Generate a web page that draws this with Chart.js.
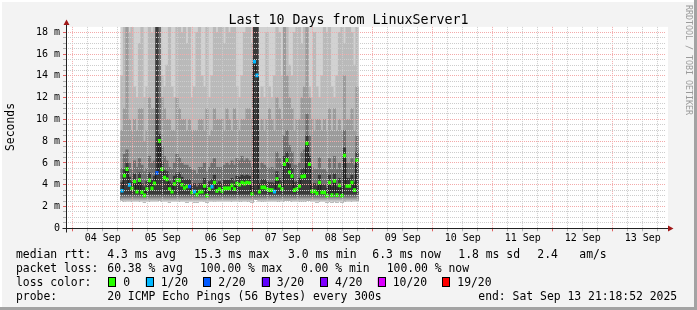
<!DOCTYPE html>
<html>
<head>
<meta charset="utf-8">
<script src="https://cdn.jsdelivr.net/npm/chart.js@4.4.1/dist/chart.umd.min.js"></script>
<style>
  html, body { margin: 0; padding: 0; background: #f3f3f3; }
  #myChart { display: block; }
</style>
</head>
<body>
<canvas id="myChart" width="697" height="310"></canvas>
<script>
// hourly samples, first one at 04 Sep 19:42 (hours counted from 04 Sep 00:00)
const firstHour = 19.7;
const rangeStart = -2.686;   // 03 Sep 21:18:52
const rangeEnd = 237.314;    // 13 Sep 21:18:52
const dayLabels = ['04 Sep', '05 Sep', '06 Sep', '07 Sep', '08 Sep', '09 Sep', '10 Sep', '11 Sep', '12 Sep', '13 Sep'];

// median rtt (ms)
const rttMedian = [
  3.45, 4.83, 5.44, 3.98, 3.67, 4.30, 3.36, 4.43, 3.33, 3.03,
  3.61, 4.41, 3.67, 4.13, 5.10, 8.04, 5.44, 4.65, 4.50, 3.61,
  3.36, 4.07, 4.41, 4.41, 4.00, 3.70, 3.86, 3.86, 3.30, 3.36,
  3.09, 3.36, 3.36, 3.90, 3.00, 3.60, 3.82, 4.20, 3.43, 3.60,
  3.43, 3.67, 3.67, 3.67, 3.94, 3.60, 4.10, 4.00, 4.20, 4.10,
  4.20, 4.15, 3.15, 15.30, 14.05, 3.36, 3.75, 3.75, 3.60, 3.50,
  3.50, 3.36, 4.53, 3.92, 3.60, 5.90, 6.27, 5.14, 4.80, 3.50,
  3.60, 3.90, 4.74, 4.80, 7.80, 5.90, 3.40, 3.40, 3.20, 4.20,
  3.30, 3.30, 3.00, 4.20, 3.05, 4.35, 3.05, 3.95, 3.00, 6.67,
  3.90, 3.90, 4.20, 3.50, 6.25
];
// fastest ping of each sample (bottom of the smoke)
const rttMin = [
  2.60, 2.50, 2.45, 2.45, 2.50, 2.45, 2.45, 2.50, 2.45, 2.40,
  2.45, 2.50, 2.45, 2.45, 2.45, 2.60, 2.50, 2.45, 2.45, 2.40,
  2.45, 2.45, 2.50, 2.50, 2.45, 2.45, 2.40, 2.45, 2.45, 2.40,
  2.40, 2.45, 2.45, 2.50, 2.40, 2.45, 2.45, 2.50, 2.45, 2.45,
  2.45, 2.45, 2.45, 2.45, 2.50, 2.45, 2.45, 2.50, 2.50, 2.45,
  2.50, 2.50, 2.40, 2.70, 2.65, 2.45, 2.50, 2.50, 2.45, 2.45,
  2.45, 2.45, 2.50, 2.50, 2.45, 2.55, 2.60, 2.55, 2.50, 2.45,
  2.45, 2.50, 2.50, 2.50, 2.60, 2.55, 2.45, 2.45, 2.40, 2.50,
  2.45, 2.45, 2.40, 2.50, 2.40, 2.50, 2.40, 2.45, 2.40, 2.55,
  2.45, 2.45, 2.50, 2.45, 2.55
];
// smoke bands (ms), 20 = past the top of the graph
const rttP60 = [
  4.2, 5.4, 6.0, 4.7, 4.3, 5.0, 4.1, 5.1, 4.1, 3.8,
  4.3, 5.1, 4.4, 4.8, 20, 8.6, 6.1, 5.3, 5.2, 4.3,
  4.1, 4.8, 5.1, 5.1, 4.7, 4.4, 4.5, 4.5, 4.0, 4.1,
  3.8, 4.1, 4.1, 4.6, 3.7, 4.3, 4.5, 4.9, 4.1, 4.3,
  4.1, 4.4, 4.4, 4.4, 4.6, 4.3, 4.8, 4.7, 4.9, 4.8,
  4.9, 4.8, 3.9, 20, 20, 4.1, 4.5, 4.5, 4.3, 4.2,
  4.2, 4.1, 5.2, 4.6, 4.3, 6.6, 7.0, 5.9, 5.5, 4.2,
  4.3, 4.6, 5.4, 5.5, 8.5, 6.6, 4.1, 4.1, 3.9, 4.9,
  4.0, 4.0, 3.7, 4.9, 3.8, 5.0, 3.8, 4.6, 3.7, 7.4,
  4.6, 4.6, 4.9, 4.2, 7.0
];
const rttP75 = [
  5.5, 6.8, 7.2, 6.0, 5.4, 6.2, 5.6, 6.4, 5.8, 5.2,
  5.5, 6.6, 6.0, 6.2, 20, 20, 7.5, 6.6, 6.2, 5.6,
  5.4, 6.0, 6.8, 6.5, 6.0, 5.8, 5.8, 5.6, 5.4, 5.3,
  5.0, 5.6, 5.6, 6.0, 5.2, 5.6, 6.0, 6.4, 5.6, 5.6,
  5.6, 5.8, 6.0, 5.8, 6.2, 5.8, 6.4, 6.2, 6.6, 6.2,
  6.4, 6.2, 5.6, 20, 20, 5.4, 6.0, 5.8, 5.6, 5.5,
  5.6, 5.4, 7.0, 6.4, 5.8, 8.5, 9.0, 7.6, 7.0, 5.8,
  5.8, 6.0, 7.0, 7.2, 10.5, 8.5, 5.6, 5.4, 5.4, 6.5,
  5.4, 5.4, 5.2, 6.4, 5.4, 6.6, 5.4, 6.0, 5.4, 9.0,
  6.0, 6.0, 6.4, 5.8, 8.5
];
const rttP90 = [
  9, 11, 20, 10, 9, 10, 9, 11, 11, 8,
  9, 12, 11, 11, 20, 20, 12, 11, 10, 10,
  9, 9, 12, 11, 10, 10, 9, 10, 9, 9,
  9, 10, 10, 9, 11, 8.5, 9, 11, 10, 10,
  10, 9, 11, 10, 9, 11, 10, 9, 10, 10,
  11, 11, 10, 20, 20, 9, 10, 9, 10, 11,
  10, 9, 12, 11, 10, 20, 14, 12, 11, 9,
  10, 10, 12, 13, 20, 12, 10, 9, 10, 10,
  9, 10, 9, 11, 9, 11, 9, 10, 9, 14,
  10, 10, 11, 9, 13
];
const rttP95 = [
  14, 19, 20, 18, 19, 13, 12, 17, 19, 12,
  13, 19, 18, 19, 20, 20, 14, 13, 15, 19,
  13, 12, 19, 19, 18, 19, 17, 19, 12, 13,
  18, 19, 14, 13, 19, 12, 14, 19, 18, 19,
  19, 17, 19, 18, 19, 19, 13, 12, 14, 18,
  19, 19, 17, 20, 20, 12, 13, 12, 18, 13,
  12, 14, 19, 18, 14, 20, 19, 15, 14, 18,
  19, 19, 17, 19, 20, 13, 12, 18, 13, 12,
  14, 19, 18, 19, 13, 12, 14, 18, 19, 17,
  19, 19, 18, 15, 19
];
// lost pings out of 20 per sample
const lossCount = [
  1, 0, 0, 1, 0, 0, 0, 0, 0, 0,
  0, 0, 0, 0, 2, 0, 0, 0, 0, 0,
  0, 0, 0, 0, 0, 0, 0, 2, 0, 1,
  0, 0, 0, 0, 0, 0, 1, 0, 0, 0,
  0, 0, 0, 0, 0, 0, 0, 0, 0, 0,
  0, 0, 0, 1, 1, 0, 0, 0, 0, 0,
  0, 1, 0, 0, 0, 0, 0, 0, 0, 0,
  0, 0, 0, 0, 0, 0, 0, 0, 0, 0,
  0, 0, 0, 0, 0, 0, 0, 0, 0, 0,
  0, 0, 0, 0, 0
];

// legend
const lossLevels = [0, 1, 2, 3, 4, 10, 19];
const lossLabels = ['0', '1/20', '2/20', '3/20', '4/20', '10/20', '19/20'];
const lossColors = ['#26ff00', '#00b8ff', '#0059ff', '#5e00ff', '#7e00ff', '#dd00ff', '#ff0000'];
const rttStats = ['4.3 ms avg', '15.3 ms max', '3.0 ms min', '6.3 ms now', '1.8 ms sd', '2.4', 'am/s'];
const lossStats = ['60.38 % avg', '100.00 % max', '0.00 % min', '100.00 % now'];
const probeText = '20 ICMP Echo Pings (56 Bytes) every 300s';
const endText = 'end: Sat Sep 13 21:18:52 2025';

const MONO = '"DejaVu Sans Mono", monospace';
const Y_MAX = 18.5;
const hours = rttMedian.map((v, i) => firstHour + i);

function band(lo, hi) {
  return hours.map((h, i) => ({ x: h, y: [lo[i], hi[i]] }));
}
function lossColor(n) {
  let c = lossColors[0];
  lossLevels.forEach((lv, i) => { if (n >= lv) c = lossColors[i]; });
  return c;
}

const barBase = { type: 'bar', grouped: false, categoryPercentage: 1, barPercentage: 1, borderWidth: 0 };

// dark core fades out towards the fastest pings
function coreFill(ctx) {
  const chart = ctx.chart;
  if (!chart.chartArea) return '#3c3c3c';
  const y = chart.scales.y;
  const g = chart.ctx.createLinearGradient(0, y.getPixelForValue(2.4), 0, y.getPixelForValue(3.2));
  g.addColorStop(0, '#e2e2e2');
  g.addColorStop(1, '#3a3a3a');
  return g;
}

const datasets = [
  Object.assign({}, barBase, { order: 0, data: hours.map((h, i) => ({ x: h, y: [rttMedian[i] - 0.14, rttMedian[i] + 0.14] })),
    backgroundColor: lossCount.map(lossColor) }),
  { type: 'line', order: 1, data: hours.map((h, i) => ({ x: h, y: rttMedian[i] })),
    borderColor: '#1a1a1a', borderWidth: 1, pointRadius: 0, stepped: 'middle' },
  Object.assign({}, barBase, { order: 2, data: band(rttMin, rttP60), backgroundColor: coreFill }),
  Object.assign({}, barBase, { order: 3, data: band(rttMin, rttP75), backgroundColor: '#707070' }),
  Object.assign({}, barBase, { order: 4, data: band(rttMin, rttP90), backgroundColor: '#9c9c9c' }),
  Object.assign({}, barBase, { order: 5, data: band(rttMin, rttP95), backgroundColor: '#bababa' }),
  Object.assign({}, barBase, { order: 6, data: band(rttMin, hours.map(() => Y_MAX)), backgroundColor: '#d2d2d2' })
];

const RED_GRID = '#f3aaaa';
const GREY_GRID = '#cdcdcd';

const frame = {
  id: 'frame',
  beforeDraw(chart) {
    const c = chart.ctx, a = chart.chartArea;
    c.save();
    c.fillStyle = '#f3f3f3';
    c.fillRect(0, 0, chart.width, chart.height);
    c.fillStyle = '#ffffff';
    c.fillRect(0, 0, chart.width, 2);
    c.fillRect(0, 0, 2, chart.height);
    c.fillStyle = '#a3a3a3';
    c.fillRect(0, chart.height - 3, chart.width, 3);
    c.fillRect(chart.width - 3, 0, 3, chart.height);
    c.fillStyle = '#ffffff';
    c.fillRect(a.left, a.top, a.right - a.left + 2, a.bottom - a.top);
    c.restore();
  },
  afterDraw(chart) {
    const c = chart.ctx, a = chart.chartArea;
    const x0 = Math.round(a.left) + 0.5, y0 = Math.round(a.bottom) + 0.5;
    c.save();
    // axes
    c.strokeStyle = '#202020';
    c.lineWidth = 1;
    c.beginPath();
    c.moveTo(x0 - 4, y0); c.lineTo(a.right + 3, y0);
    c.moveTo(x0, y0 + 4); c.lineTo(x0, a.top - 3);
    c.stroke();
    c.fillStyle = '#a01818';
    c.beginPath();
    c.moveTo(a.right + 2, y0 - 3); c.lineTo(a.right + 7.5, y0); c.lineTo(a.right + 2, y0 + 3); c.closePath();
    c.moveTo(x0 - 3, a.top - 2); c.lineTo(x0, a.top - 7.5); c.lineTo(x0 + 3, a.top - 2); c.closePath();
    c.fill();

    // title and axis title
    c.fillStyle = '#000';
    c.font = '13.3px ' + MONO;
    c.textAlign = 'center';
    c.textBaseline = 'alphabetic';
    c.fillText('Last 10 Days from LinuxServer1', chart.width / 2, 24);
    c.save();
    c.translate(14, 127);
    c.rotate(-Math.PI / 2);
    c.font = '11.4px ' + MONO;
    c.fillText('Seconds', 0, 0);
    c.restore();

    // watermark
    c.save();
    c.translate(686, 5);
    c.rotate(Math.PI / 2);
    c.font = '8.3px ' + MONO;
    c.fillStyle = '#9a9a9a';
    c.textAlign = 'left';
    c.fillText('RRDTOOL / TOBI OETIKER', 0, 0);
    c.restore();

    // legend
    c.font = '11.4px ' + MONO;
    c.textAlign = 'left';
    c.fillStyle = '#000';
    const rows = [257.5, 271.7, 285.9, 300.1];
    c.fillText('median rtt:', 16, rows[0]);
    [107.3, 194, 288, 372.3, 458.3, 537.3, 579.3].forEach((x, i) => c.fillText(rttStats[i], x, rows[0]));
    c.fillText('packet loss:', 16, rows[1]);
    [107.3, 200, 301, 386.7].forEach((x, i) => c.fillText(lossStats[i], x, rows[1]));
    c.fillText('loss color:', 16, rows[2]);
    [108.3, 145.7, 203.3, 261.7, 320, 377.7, 442.3].forEach((x, i) => {
      c.fillStyle = lossColors[i];
      c.fillRect(x, rows[2] - 8.5, 7.5, 9.5);
      c.strokeStyle = '#000';
      c.strokeRect(Math.round(x) + 0.5, Math.round(rows[2] - 8.5) + 0.5, 7, 9);
      c.fillStyle = '#000';
      c.fillText(lossLabels[i], x + 15, rows[2]);
    });
    c.fillText('probe:', 16, rows[3]);
    c.fillText(probeText, 107.3, rows[3]);
    c.fillText(endText, 478.3, rows[3]);
    c.restore();
  }
};

const config = {
  type: 'bar',
  data: { datasets },
  options: {
    responsive: false,
    animation: false,
    events: [],
    layout: { padding: { top: 26.9, right: 31, bottom: 0, left: 0 } },
    plugins: { legend: { display: false }, tooltip: { enabled: false }, title: { display: false } },
    scales: {
      x: {
        type: 'linear',
        offset: false,
        min: rangeStart,
        max: rangeEnd,
        afterBuildTicks(scale) {
          const t = [];
          for (let h = 0; h <= rangeEnd; h += 6) t.push({ value: h });
          scale.ticks = t;
        },
        afterFit(scale) { scale.height = 81.7; scale.paddingLeft = 0; scale.paddingRight = 0; },
        ticks: {
          autoSkip: false, maxRotation: 0, padding: 1, color: '#000',
          font: { family: MONO, size: 10 },
          callback(v) { return (v - 12) % 24 === 0 ? dayLabels[(v - 12) / 24] : ''; }
        },
        grid: {
          z: 1, tickLength: 3, offset: false,
          color: (ctx) => (ctx.tick && ctx.tick.value % 24 === 0 ? RED_GRID : GREY_GRID),
          tickColor: (ctx) => (ctx.tick && ctx.tick.value % 24 === 0 ? '#e06060' : '#b0b0b0')
        },
        border: { display: false, dash: [1, 1] }
      },
      y: {
        min: 0,
        max: Y_MAX,
        afterBuildTicks(scale) {
          const t = [];
          for (let v = 0; v <= 18; v += 0.5) t.push({ value: v });
          scale.ticks = t;
        },
        afterFit(scale) { scale.width = 66; scale.paddingTop = 0; scale.paddingBottom = 0; },
        ticks: {
          autoSkip: false, padding: 3, color: '#000',
          font: { family: MONO, size: 10 },
          callback(v) { return v % 2 === 0 ? (v === 0 ? '0' : v + ' m') : ''; }
        },
        grid: {
          z: 1, tickLength: 3,
          color: (ctx) => (ctx.tick && ctx.tick.value % 2 === 0 ? RED_GRID : GREY_GRID),
          tickColor: (ctx) => (ctx.tick && ctx.tick.value % 2 === 0 ? '#e06060' : '#b0b0b0')
        },
        border: { display: false, dash: [1, 1] }
      }
    }
  },
  plugins: [frame]
};

const myChart = new Chart(document.getElementById('myChart'), config);
</script>
</body>
</html>
